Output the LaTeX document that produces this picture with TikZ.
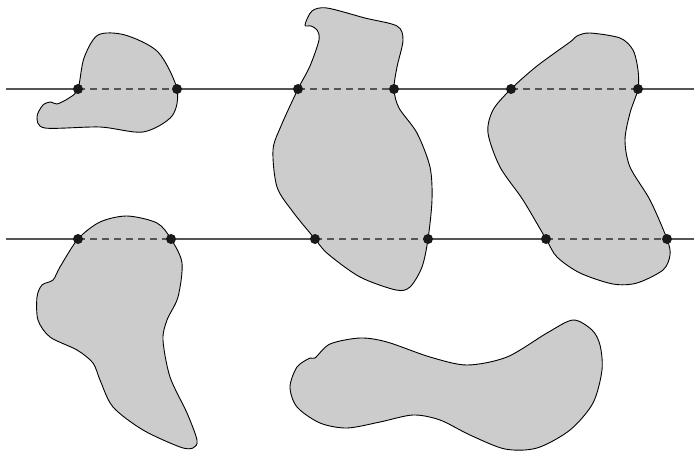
\documentclass[tikz,border=0pt]{standalone}
\usetikzlibrary{calc}
\definecolor{cfill}{HTML}{CCCCCC}
\definecolor{cline}{HTML}{555555}
\tikzset{
  blob/.style={draw=black, fill=cfill, line width=0.9pt},
  chord/.style={draw=cline, line width=1.2pt},
  inner chord/.style={chord, dash pattern=on 7pt off 5pt},
  hit/.style={fill=black!90},
}
\begin{document}
\begin{tikzpicture}[x=1pt, y=-1pt]
  \useasboundingbox (0,0) rectangle (694,451);
  % the five regions
  \draw[blob] plot[smooth cycle] coordinates {(78,89) (84,58) (98,35) (125,35) (158,52) (177,89) (172,116) (143,132) (100,127) (45,128) (37,117) (43,105) (51,102) (57,104) (69,98)};
  \draw[blob] plot[smooth cycle] coordinates {(305,25) (312,11) (327,8) (365,18) (397,26) (403,40) (397,67) (394,89) (399,108) (417,133) (430,167) (432,200) (428,239) (422,267) (410,287) (396,290) (360,277) (328,254) (315,239) (293,212) (277,187) (273,150) (281,126) (298,89) (310,66) (319,40) (317,30) (311,26)};
  \draw[blob] plot[smooth cycle] coordinates {(577,36) (590,33) (620,38) (633,50) (638,70) (638,89) (630,113) (625,140) (630,167) (650,200) (667,239) (670,255) (663,270) (637,283) (613,284) (580,273) (557,257) (546,239) (523,200) (500,167) (488,133) (493,110) (511,89) (537,66) (570,42)};
  \draw[blob] plot[smooth cycle] coordinates {(100,222) (127,216) (157,223) (171,239) (182,263) (178,297) (167,320) (163,340) (170,377) (187,413) (197,440) (193,448) (180,447) (143,430) (113,407) (100,380) (93,363) (77,350) (50,337) (38,320) (37,297) (42,285) (53,280) (60,267) (78,239)};
  \draw[blob] plot[smooth cycle] coordinates {(315,358) (310,358) (297,367) (290,387) (297,407) (320,423) (347,428) (380,422) (413,415) (440,420) (470,435) (505,449) (537,448) (570,430) (593,403) (602,370) (600,345) (592,330) (573,320) (547,333) (507,357) (467,365) (430,357) (387,342) (360,338) (330,344)};

  % crossing points
  \coordinate (u0) at (6,89);    \coordinate (u9) at (694,89);
  \coordinate (u1) at (78,89);   \coordinate (u2) at (177,89);
  \coordinate (u3) at (298,89);  \coordinate (u4) at (394,89);
  \coordinate (u5) at (511,89);  \coordinate (u6) at (638,89);
  \coordinate (l0) at (6,239);   \coordinate (l9) at (694,239);
  \coordinate (l1) at (78,239);  \coordinate (l2) at (171,239);
  \coordinate (l3) at (315,239); \coordinate (l4) at (428,239);
  \coordinate (l5) at (546,239); \coordinate (l6) at (667,239);

  % the two lines
  \draw[chord] (u0) -- (u1) (u2) -- (u3) (u4) -- (u5) (u6) -- (u9);
  \draw[inner chord] (u1) -- (u2) (u3) -- (u4) (u5) -- (u6);
  \draw[chord] (l0) -- (l1) (l2) -- (l3) (l4) -- (l5) (l6) -- (l9);
  \draw[inner chord] (l1) -- (l2) (l3) -- (l4) (l5) -- (l6);

  \foreach \p in {u1,u2,u3,u4,u5,u6,l1,l2,l3,l4,l5,l6}
    \fill[hit] (\p) circle[radius=5pt];
\end{tikzpicture}
\end{document}
